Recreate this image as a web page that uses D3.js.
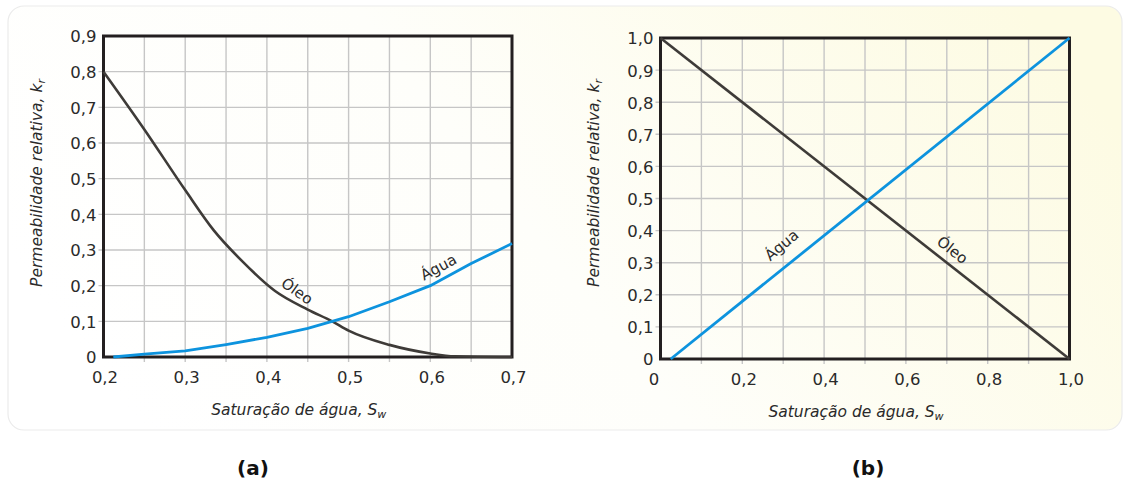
<!DOCTYPE html>
<html><head><meta charset="utf-8">
<script src="https://cdn.jsdelivr.net/npm/d3@7"></script>
<style>html,body{margin:0;padding:0;background:#fff;}svg{display:block;}</style>
</head><body>
<script>
// ---- Data ----
// Panel (a)
const oleoA_sw = [0.2, 0.25, 0.3, 0.335, 0.37, 0.41, 0.45, 0.48, 0.5, 0.55, 0.6, 0.63, 0.7];
const oleoA_kr = [0.8, 0.638, 0.468, 0.355, 0.268, 0.185, 0.133, 0.1, 0.074, 0.034, 0.01, 0.002, 0];
const aguaA_sw = [0.212, 0.25, 0.3, 0.35, 0.4, 0.45, 0.5, 0.55, 0.6, 0.65, 0.7];
const aguaA_kr = [0, 0.008, 0.017, 0.035, 0.055, 0.08, 0.113, 0.155, 0.2, 0.262, 0.318];
const xTicksA = [0.2, 0.3, 0.4, 0.5, 0.6, 0.7];
const xGridA = [0.25, 0.3, 0.35, 0.4, 0.45, 0.5, 0.55, 0.6, 0.65];
const yTicksA = [0, 0.1, 0.2, 0.3, 0.4, 0.5, 0.6, 0.7, 0.8, 0.9];
// Panel (b)
const oleoB_sw = [0, 1.0];
const oleoB_kr = [1.0, 0];
const aguaB_sw = [0.025, 1.0];
const aguaB_kr = [0, 1.0];
const xTicksB = [0, 0.2, 0.4, 0.6, 0.8, 1.0];
const xGridB = [0.1, 0.2, 0.3, 0.4, 0.5, 0.6, 0.7, 0.8, 0.9];
const yTicksB = [0, 0.1, 0.2, 0.3, 0.4, 0.5, 0.6, 0.7, 0.8, 0.9, 1.0];
// Curve labels (data coords)
const labelsA = [{t:"Óleo", sw:0.437, kr:0.185, rot:35}, {t:"Água", sw:0.61, kr:0.252, rot:-28}];
const labelsB = [{t:"Água", sw:0.296, kr:0.355, rot:-40}, {t:"Óleo", sw:0.714, kr:0.34, rot:38}];
const xTitle = "Saturação de água, S";
const yTitle = "Permeabilidade relativa, k";

const fmt = v => v === 0 ? "0" : d3.format(".1f")(v).replace(".", ",");

const W = 1125, H = 483;
const svg = d3.select("body").append("svg").attr("width", W).attr("height", H);
const defs = svg.append("defs");
const grad = defs.append("linearGradient").attr("id","bg").attr("x1","0").attr("y1","0.6").attr("x2","1").attr("y2","0.3");
grad.append("stop").attr("offset","0").attr("stop-color","#ffffff");
grad.append("stop").attr("offset","0.45").attr("stop-color","#fefefa");
grad.append("stop").attr("offset","1").attr("stop-color","#fdfbe3");
svg.append("rect").attr("x",8).attr("y",6).attr("width",1114).attr("height",424)
  .attr("rx",16).attr("fill","url(#bg)").attr("stroke","#ebebeb").attr("stroke-width",1.2);

const FONT = "DejaVu Sans, sans-serif";
const OIL = "#3e3b38", WATER = "#0d93de", FRAME = "#231f20", GRID = "#c6c6c6";

function panel(cfg){
  const x = d3.scaleLinear().domain(cfg.xd).range([cfg.l, cfg.r]);
  const y = d3.scaleLinear().domain(cfg.yd).range([cfg.b, cfg.t]);
  const g = svg.append("g");
  g.selectAll(".vg").data(cfg.xGrid).join("line")
    .attr("x1", d=>x(d)).attr("x2", d=>x(d)).attr("y1", cfg.t).attr("y2", cfg.b+5)
    .attr("stroke", GRID).attr("stroke-width", 1.4);
  g.selectAll(".hg").data(cfg.yTicks.filter(d=>d!==cfg.yd[0] && d!==cfg.yd[1])).join("line")
    .attr("x1", cfg.l-5).attr("x2", cfg.r).attr("y1", d=>y(d)).attr("y2", d=>y(d))
    .attr("stroke", GRID).attr("stroke-width", 1.4);
  g.append("rect").attr("x",cfg.l).attr("y",cfg.t).attr("width",cfg.r-cfg.l).attr("height",cfg.b-cfg.t)
    .attr("fill","none").attr("stroke",FRAME).attr("stroke-width",3);
  const ax = g.append("g").attr("transform",`translate(0,${cfg.b})`)
    .call(d3.axisBottom(x).tickValues(cfg.xTicks).tickFormat(fmt).tickSize(0).tickPadding(14));
  ax.select(".domain").remove();
  ax.selectAll("text").attr("font-family",FONT).attr("font-size",16.5).attr("fill","#2a2a2a")
    .attr("dx", d => (d===0 && cfg.xd[0]===0) ? -7 : 1);
  const ay = g.append("g").attr("transform",`translate(${cfg.l},0)`)
    .call(d3.axisLeft(y).tickValues(cfg.yTicks).tickFormat(fmt).tickSize(0).tickPadding(7));
  ay.select(".domain").remove();
  ay.selectAll("text").attr("font-family",FONT).attr("font-size",16.5).attr("fill","#2a2a2a").attr("dy","0.36em");
  const line = d3.line().x(d=>x(d[0])).y(d=>y(d[1]));
  g.append("path").datum(d3.zip(cfg.oilX, cfg.oilY)).attr("d", line.curve(d3.curveMonotoneX))
    .attr("fill","none").attr("stroke",OIL).attr("stroke-width",2.6).attr("stroke-linejoin","round");
  g.append("path").datum(d3.zip(cfg.watX, cfg.watY)).attr("d", line.curve(d3.curveLinear))
    .attr("fill","none").attr("stroke",WATER).attr("stroke-width",2.8).attr("stroke-linejoin","round");
  g.selectAll(".cl").data(cfg.labels).join("text")
    .attr("transform", d=>`translate(${x(d.sw)},${y(d.kr)}) rotate(${d.rot})`)
    .attr("text-anchor","middle").attr("dy","0.35em")
    .attr("font-family",FONT).attr("font-size",15).attr("fill","#2a2a2a").text(d=>d.t);
  const xt = g.append("text").attr("x",(cfg.l+cfg.r)/2 - 9).attr("y",cfg.b+58).attr("text-anchor","middle")
    .attr("font-family",FONT).attr("font-style","italic").attr("font-size",15.5).attr("fill","#2a2a2a");
  xt.append("tspan").text(xTitle);
  xt.append("tspan").attr("font-size",11).attr("dy",3).text("w");
  const yt = g.append("text").attr("transform",`translate(${cfg.l-62},183) rotate(-90)`)
    .attr("text-anchor","middle")
    .attr("font-family",FONT).attr("font-style","italic").attr("font-size",15.5).attr("fill","#2a2a2a");
  yt.append("tspan").text(yTitle);
  yt.append("tspan").attr("font-size",11).attr("dy",3).text("r");
  svg.append("text").attr("x",cfg.letterX).attr("y",475).attr("text-anchor","middle")
    .attr("font-family",FONT).attr("font-weight","bold").attr("font-size",20).attr("fill","#111").text(cfg.letter);
}

panel({xd:[0.2,0.7], yd:[0,0.9], l:103.5, r:512, t:36, b:357,
  xTicks:xTicksA, xGrid:xGridA, yTicks:yTicksA,
  oilX:oleoA_sw, oilY:oleoA_kr, watX:aguaA_sw, watY:aguaA_kr,
  labels:labelsA, letter:"(a)", letterX:253});
panel({xd:[0,1.0], yd:[0,1.0], l:660.5, r:1069.5, t:38, b:359,
  xTicks:xTicksB, xGrid:xGridB, yTicks:yTicksB,
  oilX:oleoB_sw, oilY:oleoB_kr, watX:aguaB_sw, watY:aguaB_kr,
  labels:labelsB, letter:"(b)", letterX:868});
</script>
</body></html>
